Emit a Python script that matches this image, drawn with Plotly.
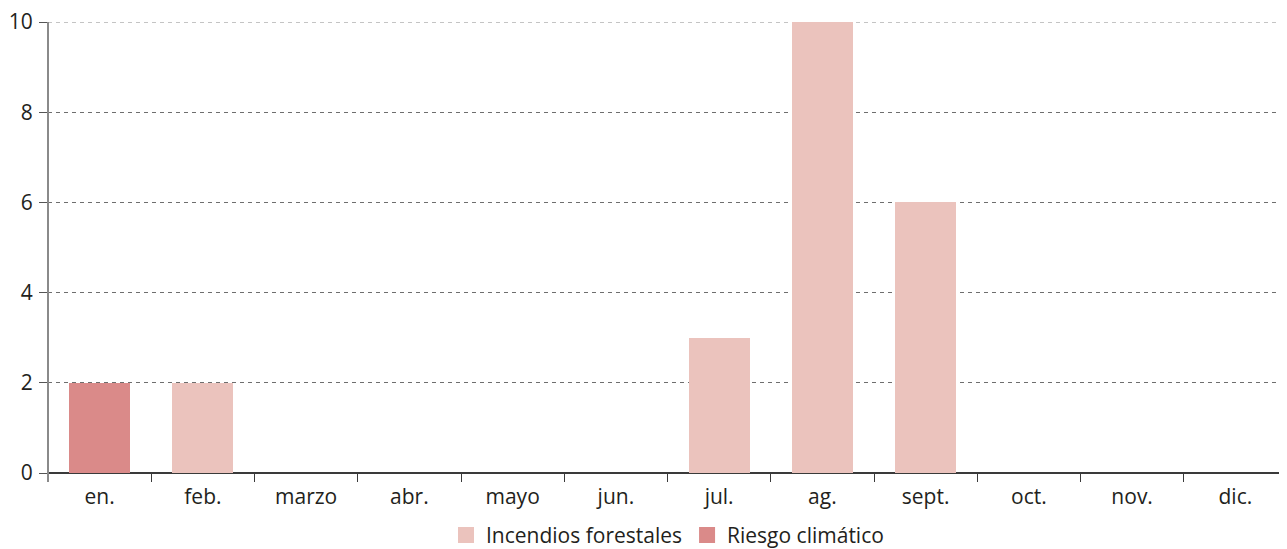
import plotly.graph_objects as go

months = ["en.", "feb.", "marzo", "abr.", "mayo", "jun.", "jul.", "ag.", "sept.", "oct.", "nov.", "dic."]
incendios = [0, 2, 0, 0, 0, 0, 3, 10, 6, 0, 0, 0]
riesgo = [2, 0, 0, 0, 0, 0, 0, 0, 0, 0, 0, 0]
y_ticks = [0, 2, 4, 6, 8, 10]

font_family = "Open Sans, Lato, sans-serif"
text_color = "#231f20"
c_inc = "#ebc3bd"
c_rie = "#da8a89"
grid_color = "#6e6e6e"

fig = go.Figure()
fig.add_trace(go.Bar(x=months, y=incendios, name="Incendios forestales",
                     marker=dict(color=c_inc, line=dict(width=0)), showlegend=False))
fig.add_trace(go.Bar(x=months, y=riesgo, name="Riesgo climático",
                     marker=dict(color=c_rie, line=dict(width=0)), showlegend=False))
# legend entries with larger square symbols
fig.add_trace(go.Scatter(x=[None], y=[None], mode="markers", name="Incendios forestales",
                         marker=dict(symbol="square", size=18, color=c_inc)))
fig.add_trace(go.Scatter(x=[None], y=[None], mode="markers", name="Riesgo climático",
                         marker=dict(symbol="square", size=18, color=c_rie)))

# page body has an 8px margin, so the figure is 8px smaller and offset
fig.update_layout(
    width=1279, height=541,
    barmode="stack", bargap=0.41,
    margin=dict(l=40, r=0, t=14, b=76, autoexpand=False),
    plot_bgcolor="white", paper_bgcolor="white",
    font=dict(family=font_family, size=21, color=text_color),
    showlegend=True,
    legend=dict(orientation="h", x=0.5, xanchor="center", y=-0.138, yanchor="middle",
                font=dict(size=21, color=text_color), itemwidth=30,
                traceorder="normal", tracegroupgap=0, itemsizing="trace"),
    xaxis=dict(
        showgrid=False, showline=False, ticks="outside", ticklen=8,
        tickcolor="#3a3a3a", tickwidth=1, tickson="boundaries",
        tickfont=dict(size=21, color=text_color), automargin=False,
        range=[-0.5, 11.5], ticklabelstandoff=9,
    ),
    yaxis=dict(
        range=[0, 10], tickvals=y_ticks, showgrid=True, gridcolor=grid_color,
        griddash="4px,4px", gridwidth=1, showline=False,
        ticks="outside", ticklen=8, tickcolor="#555555",
        tickfont=dict(size=21, color=text_color), zeroline=True,
        zerolinecolor="#3a3a3a", zerolinewidth=1.5, automargin=False,
        ticklabelstandoff=2, ticklabeloverflow="allow",
    ),
    shapes=[
        dict(type="line", xref="paper", yref="y", x0=0, x1=1, y0=10, y1=10,
             line=dict(color="#8a8a8a", width=1, dash="4px,4px"), layer="below"),
        dict(type="line", xref="paper", yref="paper", x0=0, x1=0, y0=-0.02, y1=1,
             line=dict(color="#8a8a8a", width=2), layer="above"),
    ],
)

fig.write_html("out.html")
